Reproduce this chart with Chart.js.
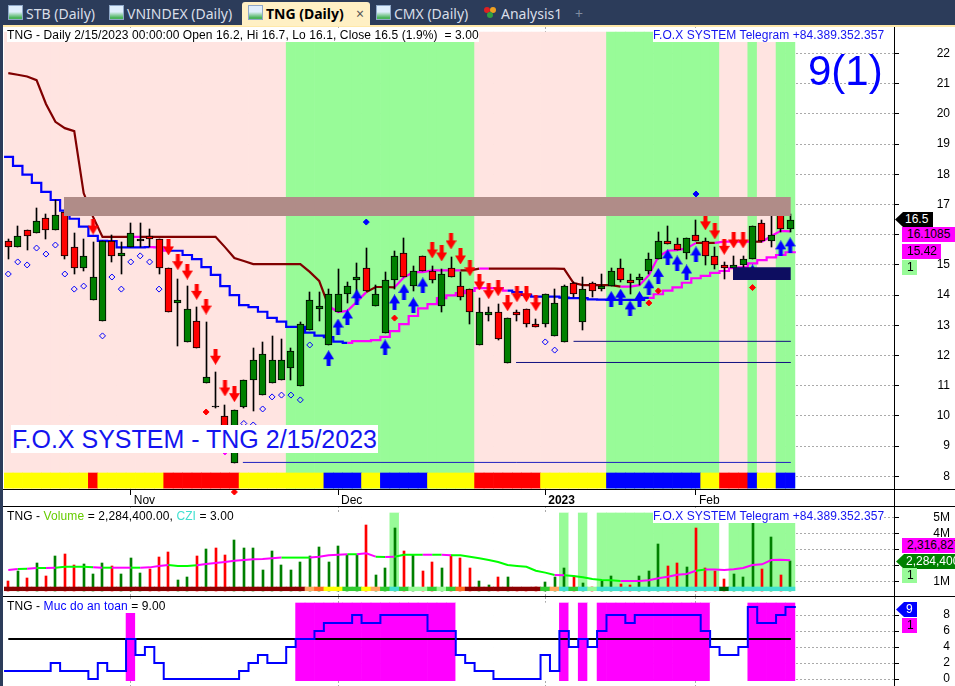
<!DOCTYPE html>
<html>
<head>
<meta charset="utf-8">
<title>TNG (Daily)</title>
<script src="https://cdn.jsdelivr.net/npm/chart.js@4"></script>
<style>
html, body { margin: 0; padding: 0; background: #fff; }
body { width: 955px; height: 686px; overflow: hidden; position: relative; font-family: "Liberation Sans", Arial, sans-serif; }
canvas { position: absolute; left: 4px; }
.abs { position: absolute; white-space: pre; }
#tabbar { position: absolute; left: 0; top: 0; width: 955px; height: 25px; background: #2c3c5a; }
#tabline { position: absolute; left: 3px; top: 25px; width: 952px; height: 2px; background: #ffe8a8; }
#frame { position: absolute; left: 0; top: 0; width: 3px; height: 686px; background: #2c3c5a; }
.tab { position: absolute; top: 4px; font: 14px "Noto Sans", sans-serif; color: #d9dee8; white-space: pre; }
#active { position: absolute; left: 242px; top: 2px; width: 128px; height: 24px; background: #fff0c4; border-radius: 3px 3px 0 0; }
.ico { position: absolute; top: 5px; width: 13px; height: 13px; border: 1px solid #8fa8c8; background: linear-gradient(#dfeefc 45%, #49b35a 90%); }
.note { background: #fff; color: #1414f0; font-size: 12px; line-height: 14px; height: 14px; letter-spacing: 0.06px; }
.lbl { background: #fff; color: #000; font-size: 12px; line-height: 14px; height: 14px; letter-spacing: 0.1px; }
.hline { position: absolute; left: 3px; width: 952px; height: 1px; background: #000; }
.tag { position: absolute; font-size: 12px; line-height: 15px; height: 15px; color: #000; padding-left: 5px; white-space: pre; overflow: hidden; }
.ptr { clip-path: polygon(0 50%, 8px 0, 100% 0, 100% 100%, 8px 100%); padding-left: 10px; color: #fff; }
</style>
</head>
<body>
<div id="frame"></div>
<div id="tabbar"></div>
<div id="tabline"></div>
<div id="active"></div>
<span class="ico" style="left:8px"></span><span class="tab" style="left:26px">STB (Daily)</span>
<span class="ico" style="left:109px"></span><span class="tab" style="left:127px">VNINDEX (Daily)</span>
<span class="ico" style="left:248px"></span><span class="tab" style="left:266px;color:#000;font-weight:bold">TNG (Daily)</span>
<span class="tab" style="left:356px;color:#555">×</span>
<span class="ico" style="left:376px"></span><span class="tab" style="left:394px">CMX (Daily)</span>
<span class="abs" style="left:484px;top:7px;width:6px;height:6px;background:#e02020;border-radius:3px"></span>
<span class="abs" style="left:490px;top:7px;width:6px;height:6px;background:#f0a020;border-radius:3px"></span>
<span class="abs" style="left:487px;top:12px;width:6px;height:6px;background:#30a040;border-radius:3px"></span>
<span class="tab" style="left:501px">Analysis1</span>
<span class="tab" style="left:575px;color:#7f8ba0">+</span>

<canvas id="priceChart" width="946" height="477" style="top:27px"></canvas>
<canvas id="volChart" width="946" height="90" style="top:506px"></canvas>
<canvas id="safeChart" width="946" height="89" style="top:597px"></canvas>

<div class="hline" style="top:489px"></div>
<div class="hline" style="top:506px"></div>
<div class="hline" style="top:596px"></div>
<div class="abs" style="left:894px;top:27px;width:1px;height:659px;background:#000"></div>

<span class="abs lbl" style="left:7px;top:28px">TNG - Daily 2/15/2023 00:00:00 Open 16.2, Hi 16.7, Lo 16.1, Close 16.5 (1.9%)  = 3.00</span>
<span class="abs note" style="left:653px;top:28px">F.O.X SYSTEM Telegram +84.389.352.357</span>
<span class="abs" style="left:808px;top:50px;font-size:42px;line-height:42px;color:#0000ff">9(1)</span>
<span class="abs" style="left:11px;top:425px;height:28px;line-height:28px;font-size:25px;color:#1414f0;background:#fff;padding:0 1px 0 1px">F.O.X SYSTEM - TNG 2/15/2023</span>

<span class="abs lbl" style="left:7px;top:509px">TNG - <span style="color:#66cc00">Volume</span> = 2,284,400.00, <span style="color:#40e0d0">CZI</span> = 3.00</span>
<span class="abs note" style="left:653px;top:509px">F.O.X SYSTEM Telegram +84.389.352.357</span>
<span class="abs lbl" style="left:7px;top:599px">TNG - <span style="color:#0000ff">Muc do an toan</span> = 9.00</span>

<div class="tag ptr" style="left:895px;top:212px;width:28px;background:#000">16.5</div>
<div class="tag" style="left:902px;top:227px;width:48px;background:#ff00ff">16.1085</div>
<div class="tag" style="left:902px;top:244px;width:34px;background:#ff00ff">15.42</div>
<div class="tag" style="left:902px;top:260px;width:10px;background:#98fb98">1</div>
<div class="tag" style="left:902px;top:538px;width:48px;background:#ff00ff">2,316,827</div>
<div class="tag ptr" style="left:896px;top:554px;width:49px;background:#008000">2,284,400</div>
<div class="tag" style="left:902px;top:568px;width:10px;background:#98fb98">1</div>
<div class="tag ptr" style="left:896px;top:602px;width:11px;background:#0000ff">9</div>
<div class="tag" style="left:902px;top:618px;width:10px;background:#ff00ff">1</div>

<script>
// gia theo tung phien (84 phien, doc tu hinh)
var candleOpen = [
  15.8,15.6,16.15,16.05,16.55,16.15,16.75,15.6,14.9,13.85,
  13.15,15.8,15.3,15.6,15.8,15.95,15.85,14.9,13.75,12.45,
  13.15,11.1,10.32,10.0,8.45,10.3,11.2,10.7,11.1,11.2,
  11.6,11,12.85,13.55,12.35,13.45,14.05,14.5,14.9,13.65,
  12.75,14.5,15.4,14.3,15.3,14.8,13.65,14.9,14.3,14.2,
  12.35,13.35,13.45,11.75,13.45,13.55,13.05,13.05,12.65,12.45,
  14.4,13.1,14.4,14.2,14.3,14.9,14.5,14.5,14.8,15.2,
  15.8,15.7,15.4,16,15.8,15.3,15,14.9,15,15.2,
  16.4,15.8,16.7,16.2];
var candleHigh = [
  15.85,16.3,16.15,16.9,16.7,17.15,16.75,16.05,15.85,15.75,
  15.8,16,15.75,16.4,16.4,16.2,15.85,14.9,14.55,14.3,
  13.6,13.1,11.45,10.35,10.2,11.2,12.25,12.45,12.65,12.55,
  12.25,13.1,14.1,14.1,14.2,14.85,14.45,15.05,15.55,14.35,
  14.75,15.45,15.9,14.95,15.3,14.95,14.85,15.25,14.75,14.2,
  13.9,13.6,13.7,13.25,13.5,13.55,13.2,14.05,14.2,14.35,
  14.45,14.6,14.45,14.7,14.9,15.2,14.7,14.7,15.4,16.1,
  16.3,15.9,15.9,16.5,15.9,15.6,15.1,15.3,15.3,16.3,
  16.5,16.7,16.85,16.7];
var candleLow = [
  15.2,15.6,15.5,16.05,15.85,16.15,15.2,14.7,14.8,13.85,
  13.15,15.1,14.7,15.6,15.6,15.6,14.7,13.45,12.3,12.45,
  12.25,11.1,10.25,9.1,8.45,10.25,10.15,10.7,11.1,11.2,
  11.2,11,12.85,13.15,12.35,13.45,13.75,14.05,14.15,13.65,
  12.75,14.2,14.6,14.15,14.8,14.4,13.45,14.6,13.85,13.05,
  12.35,13.15,12.5,11.75,13.15,12.95,12.95,12.95,12.65,12.45,
  13.95,12.85,13.95,14.15,14.3,14.45,14.05,14.35,14.7,15.2,
  15.7,15.5,15.2,15.8,15,14.85,14.55,14.9,14.85,15.2,
  15.75,15.6,16.1,16.1];
var candleClose = [
  15.6,15.95,15.95,16.45,16.15,16.65,15.3,14.9,15.3,14.6,
  15.8,15.3,15.4,16.05,15.85,15.85,14.9,13.45,13.85,13.55,
  12.25,11.3,10.28,9.2,10.2,11.2,11.85,12.05,11.85,11.85,
  12.15,13.05,13.85,13.65,14.05,14.05,14.3,14.6,14.15,14.05,
  14.5,15.3,14.6,14.8,14.8,14.5,14.7,14.6,13.95,13.45,
  13.45,13.45,12.55,13.25,13.35,13.05,12.95,14.05,13.75,14.3,
  14.05,14.2,14.15,14.3,14.8,14.5,14.4,14.6,15.2,15.8,
  15.7,15.5,15.9,15.8,15.3,15,14.9,15,15.2,16.3,
  15.8,16,16.2,16.5];

// duong tren (do / hong) va duong duoi (xanh / hong)
var upperLine = [
  21.35,21.3,21.24,21.12,20.33,19.74,19.53,19.43,17.38,16.59,
  15.93,15.93,15.93,15.93,15.93,15.93,15.93,15.93,15.93,15.93,
  15.93,15.93,15.93,15.59,15.23,15.13,15.03,15.03,15.03,15.03,
  15.03,15.03,14.77,14.47,13.64,13.44,13.48,13.78,14.1,14.27,
  14.27,14.26,14.59,14.76,14.76,14.82,14.82,14.82,14.82,14.82,
  14.88,14.88,14.88,14.88,14.88,14.88,14.88,14.88,14.88,14.87,
  14.4,14.33,14.33,14.33,14.33,14.28,14.28,14.33,14.66,15.27,
  15.47,15.49,15.55,15.73,15.73,15.73,15.77,15.77,15.77,15.77,
  15.77,15.96,16.13,16.11];
var lowerLine = [
  18.58,18.28,17.99,17.72,17.42,17.15,16.8,16.53,16.27,15.96,
  15.8,15.79,15.58,15.58,15.58,15.59,15.58,15.47,15.47,15.33,
  15.19,14.93,14.67,14.3,14.0,13.67,13.6,13.45,13.25,13.12,
  12.95,12.95,12.76,12.66,12.61,12.46,12.42,12.48,12.48,12.51,
  12.62,12.81,13.04,13.31,13.56,13.7,13.9,13.99,14.07,14.14,
  14.23,14.23,14.23,14.15,14.1,14.01,13.95,13.95,13.95,13.92,
  13.9,13.9,13.86,13.85,13.84,13.84,13.84,13.84,13.91,14.03,
  14.15,14.26,14.41,14.56,14.64,14.74,14.8,14.89,14.92,15.05,
  15.16,15.25,15.33,15.42];
var upperMagentaRuns = [[13,13],[34,37],[41,47],[50,50],[65,72],[75,78],[80,83]];
var lowerMagentaRuns = [[15,16],[36,52],[68,83]];

// nen hong / xanh la va dai mau duoi bieu do gia
var priceGreenRuns = [[30,49],[64,75],[79,79],[82,83]];
var stripState = [
  0,0,0,0,0,0,0,0,0,1, 0,0,0,0,0,0,0,1,1,1,
  1,1,1,1,1,0,0,0,0,0, 0,0,0,0,2,2,2,2,0,0,
  2,2,2,2,2,0,0,0,0,0, 1,1,1,1,1,1,1,0,0,0,
  0,0,0,0,2,2,2,2,2,2, 2,2,2,2,0,0,1,1,1,2,
  0,0,2,2];

// cac dau mui ten va hinh thoi
var redArrowIdx = [9,17,18,19,20,21,22,23,24,45,46,47,48,49,50,51,52,53,54,55,56,74,75,76,77,78];
var redArrowVal = [16.27,15.58,15.09,14.78,14.11,13.62,11.96,10.91,10.72,15.48,15.38,15.78,15.28,14.89,14.42,14.13,14.23,13.73,14.03,14.03,13.73,16.41,16.11,15.6,15.81,15.81];
var blueArrowIdx = [34,35,36,37,40,41,42,43,44,64,65,66,67,68,69,70,71,72,73,79,82,83];
var blueArrowVal = [11.91,12.96,13.26,13.93,12.27,13.76,14.11,13.66,14.32,13.87,13.95,13.56,13.87,14.26,14.64,15.25,15.05,14.75,15.35,14.75,15.55,15.65];
var hollowIdx = [0,1,2,3,4,5,6,7,8,10,11,12,13,14,15,16,25,26,27,28,29,30,31,32,57,58];
var hollowVal = [14.7,15.1,15.0,15.56,15.36,15.66,14.7,14.2,14.3,12.65,14.6,14.2,15.1,15.3,15.1,14.2,9.75,9.7,10.23,10.63,10.69,10.69,10.53,12.35,12.45,12.18];
var redDotIdx = [21,24,41,68,69,79];
var redDotVal = [10.13,7.48,13.24,13.74,14.14,14.25];
var blueDotIdx = [38,73];
var blueDotVal = [16.42,17.35];
var magentaDotIdx = [23];
var magentaDotVal = [8.84];

// vung khang cu / ho tro va cac duong ngang
var brownZone = [5.91, 83.07, 16.62, 17.25];
var navyZone = [76.93, 83.07, 14.5, 14.92];
var supportStart = [60, 53.9, 24.9];
var supportLevel = [12.47, 11.77, 8.46];
var lastIdx = 83.07;

// khoi luong (trieu cp)
var volume = [
  1.02,1.64,1.21,2.14,1.33,2.58,2.71,2.02,2.08,1.46,
  2.14,1.96,1.46,2.46,1.52,1.77,2.52,2.83,1.08,1.27,
  2.58,3.02,3.08,2.64,3.58,3.08,3.08,1.71,2.89,2.02,
  1.71,2.21,2.58,3.14,2.21,3.21,2.64,2.64,4.52,1.39,
  1.83,4.33,2.89,2.64,1.64,2.21,1.83,2.64,2.46,1.83,
  1.02,0.77,1.27,1.27,0.54,0.58,0.62,0.96,1.27,1.83,
  1.33,0.89,0.64,1.02,1.33,0.83,0.77,1.33,1.64,3.33,
  1.96,2.14,1.89,4.33,1.83,1.64,1.14,1.46,1.27,4.64,
  1.77,3.77,1.39,2.28];
var volAverage = [
  1.71,1.77,1.79,1.83,1.83,1.85,1.91,1.91,1.91,1.87,
  1.85,1.85,1.85,1.85,1.85,1.87,1.96,2.02,1.96,1.96,
  2.0,2.08,2.14,2.21,2.29,2.33,2.37,2.39,2.44,2.48,
  2.48,2.48,2.48,2.54,2.62,2.66,2.69,2.69,2.75,2.54,
  2.52,2.54,2.66,2.66,2.66,2.66,2.66,2.62,2.62,2.54,
  2.44,2.33,2.21,2.02,1.96,1.91,1.66,1.54,1.39,1.37,
  1.33,1.25,1.14,1.08,1.06,1.02,1.02,1.02,1.06,1.19,
  1.29,1.41,1.46,1.66,1.73,1.73,1.71,1.75,1.83,2.02,
  2.06,2.33,2.35,2.32];
var volAvgMagentaRuns = [[0,0],[2,2],[4,4],[9,9],[11,12],[14,16],[20,28],[32,35],[37,38],[40,40],[44,44],[46,46],[58,58],[65,72],[74,83]];
var volGreenRuns = [[41,41],[59,59],[61,61],[63,75],[77,83]];
var volBand = [0.41, 5.27];
var cziStrip = [0.41, 0.64];
var cziState = [
  0,0,0,0,0,0,0,0,0,0, 0,0,0,0,0,0,0,0,0,0,
  0,0,0,0,0,0,0,0,0,0, 0,0,1,2,3,3,4,4,3,1,
  4,6,4,5,5,4,5,4,2,0, 0,0,0,0,0,0,0,4,1,6,
  4,6,5,6,6,6,6,6,6,6, 6,6,6,6,6,6,7,6,6,6,
  6,6,6,6];

// muc do an toan
var safetyLevel = [
  1,1,1,1,1,2,1,1,1,0, 2,1,1,5,3,4,2,0,0,0,
  0,0,0,0,0,1,2,3,2,2, 4,5,5,6,7,7,7,8,7,7,
  8,8,8,8,8,6,6,6,3,2, 1,1,0,0,0,0,0,3,1,6,
  4,5,4,6,8,8,7,8,8,8, 8,8,8,8,6,4,3,3,4,9,
  7,7,8,9];
var safetyMagentaRuns = [[13,13],[31,47],[59,59],[61,61],[63,74],[79,83]];
var safetyBand = [-0.21, 9.5];
var safetyLine = 5;

// truc
var monthIdx = [13,35,57,73];
var monthLabels = ['Nov','Dec','2023','Feb'];
var priceTicks = [8,9,10,11,12,13,14,15,16,17,18,19,20,21,22];
var volTicks = [1,2,3,4,5];
var safetyTicks = [0,2,4,6,8];

var stripColors = ['#ffff00','#ff0000','#0000ff'];
var cziColors = ['#8b0000','#ffa860','#ff6a20','#ffff00','#32cd32','#98fb98','#40e0d0','#006400'];

function inRuns(runs, i) {
  for (var r = 0; r < runs.length; r++) {
    if (i >= runs[r][0] && i <= runs[r][1]) return true;
  }
  return false;
}
function pts(arr) {
  return arr.map(function (v, i) { return { x: i, y: v }; });
}
function pick(idx, val) {
  return idx.map(function (v, i) { return { x: v, y: val[i] }; });
}
// keo dai duong bac thang ra hai mep vung du lieu
function withEnds(arr) {
  var p = pts(arr);
  p.unshift({ x: -0.45, y: arr[0] });
  p.push({ x: 83.6, y: arr[arr.length - 1] });
  return p;
}
function floating(low, high) {
  return candleOpen.map(function (v, i) { return { x: i, y: [low, high] }; });
}
function segColor(runs, on, off) {
  return function (ctx) {
    return inRuns(runs, Math.max(0, Math.floor(ctx.p0.parsed.x))) ? on : off;
  };
}
function arrowImage(color, up) {
  var c = document.createElement('canvas');
  c.width = 11; c.height = 16;
  var g = c.getContext('2d');
  g.fillStyle = color;
  g.translate(5.5, 8);
  if (!up) g.scale(1, -1);
  g.beginPath();
  g.moveTo(0, -8); g.lineTo(5.5, 1); g.lineTo(2, 1); g.lineTo(2, 8);
  g.lineTo(-2, 8); g.lineTo(-2, 1); g.lineTo(-5.5, 1);
  g.closePath();
  g.fill();
  return c;
}
function isUp(i) { return candleClose[i] >= candleOpen[i]; }
function candleColor(i) {
  if (Math.abs(candleClose[i] - candleOpen[i]) < 0.05) return '#000';
  return isUp(i) ? '#008000' : '#ff0000';
}

// dat thanh nen va cot khoi luong vao dung pixel cho net
var snapBars = {
  id: 'snapBars',
  beforeDatasetsDraw: function (chart) {
    chart.data.datasets.forEach(function (ds, n) {
      if (!ds.snap) return;
      chart.getDatasetMeta(n).data.forEach(function (el) {
        el.x = (Math.round(el.width) % 2) ? Math.floor(el.x) + 0.5 : Math.round(el.x);
        el.y = Math.round(el.y);
        el.base = Math.round(el.base);
      });
    });
  }
};

Chart.defaults.font.family = '"Liberation Sans", Arial, sans-serif';
Chart.defaults.font.size = 12;
Chart.defaults.color = '#000';
Chart.defaults.animation = false;

// bo padding mac dinh cua truc de vung ve dung kich thuoc
function noMargins(s) {
  s.paddingTop = 0; s.paddingBottom = 0; s.paddingLeft = 0; s.paddingRight = 0;
}
function yAxis(min, max, ticks, text) {
  return {
    position: 'right', min: min, max: max, beginAtZero: false,
    afterFit: function (s) { s.width = 56; noMargins(s); },
    afterBuildTicks: function (s) { s.ticks = ticks.map(function (v) { return { value: v }; }); },
    grid: { color: '#aaa', tickColor: '#000', tickLength: 5 },
    border: { display: false, dash: [2, 2] },
    ticks: { crossAlign: 'far', padding: 2, autoSkip: false, callback: text }
  };
}
function xAxis(showLabels) {
  return {
    type: 'linear', min: -0.456, max: 94.02, offset: false,
    afterFit: function (s) { s.height = showLabels ? 15 : 0; noMargins(s); },
    afterBuildTicks: function (s) { s.ticks = monthIdx.map(function (v) { return { value: v }; }); },
    grid: { offset: false, color: '#aaa', tickColor: '#000', tickLength: 6, drawTicks: showLabels },
    border: { display: false, dash: [2, 2] },
    ticks: {
      display: showLabels, align: 'start', labelOffset: 3, padding: -2, autoSkip: false, maxRotation: 0,
      callback: function (v) { return monthLabels[monthIdx.indexOf(v)]; },
      font: function (ctx) { return { weight: ctx.tick && ctx.tick.value === 57 ? 'bold' : 'normal' }; }
    }
  };
}
function baseOptions(x, y) {
  return {
    responsive: false, animation: false, devicePixelRatio: 1,
    layout: { padding: 0, autoPadding: false },
    plugins: { legend: { display: false }, tooltip: { enabled: false } },
    events: [],
    scales: { x: x, y: y }
  };
}
function bandSet(low, high, color, order) {
  return {
    type: 'bar', grouped: false, order: order, barPercentage: 1, categoryPercentage: 1,
    data: floating(low, high),
    backgroundColor: color
  };
}
function zoneSet(z, color, order) {
  return {
    type: 'line', order: order, pointRadius: 0, borderWidth: 0, backgroundColor: color,
    fill: { value: z[2] },
    data: [{ x: z[0], y: z[3] }, { x: z[1], y: z[3] }]
  };
}
function markSet(data, style, radius, fill, line, order) {
  return {
    type: 'scatter', order: order, data: data, pointStyle: style, pointRadius: radius,
    backgroundColor: fill, borderColor: line, borderWidth: 1, showLine: false, clip: false
  };
}

var priceSets = [
  bandSet(7.61, 22.71, function (c) { return inRuns(priceGreenRuns, c.dataIndex) ? '#98fb98' : '#ffe4e1'; }, 100),
  bandSet(7.61, 8.11, function (c) { return stripColors[stripState[c.dataIndex]]; }, 90),
  {
    type: 'line', order: 60, borderWidth: 2.2, pointRadius: 0, borderColor: '#800000', data: pts(upperLine),
    segment: { borderColor: segColor(upperMagentaRuns, '#ff00ff', '#800000') }
  },
  {
    type: 'line', order: 59, borderWidth: 2.2, pointRadius: 0, borderColor: '#0000ff', stepped: 'middle', data: withEnds(lowerLine),
    segment: { borderColor: segColor(lowerMagentaRuns, '#ff00ff', '#0000ff') }
  },
  {
    type: 'bar', grouped: false, order: 50, snap: true, barThickness: 1, backgroundColor: '#000',
    data: candleOpen.map(function (v, i) { return { x: i, y: [candleLow[i], candleHigh[i]] }; })
  },
  {
    type: 'bar', grouped: false, order: 49, snap: true, barThickness: 7, borderWidth: 1, borderSkipped: false, borderColor: '#000',
    backgroundColor: function (c) { return candleColor(c.dataIndex); },
    data: candleOpen.map(function (v, i) { return { x: i, y: [candleOpen[i], candleClose[i]] }; })
  },
  markSet(pick(hollowIdx, hollowVal), 'rectRot', 3, 'rgba(255,255,255,0)', '#0000ff', 40),
  markSet(pick(redDotIdx, redDotVal), 'rectRot', 3, '#ff0000', '#ff0000', 39),
  markSet(pick(blueDotIdx, blueDotVal), 'rectRot', 3, '#0000ff', '#0000ff', 38),
  markSet(pick(magentaDotIdx, magentaDotVal), 'rectRot', 4, '#ff00ff', '#ff00ff', 37),
  markSet(pick(redArrowIdx, redArrowVal), arrowImage('#ff0000', false), 5, '#ff0000', '#ff0000', 30),
  markSet(pick(blueArrowIdx, blueArrowVal), arrowImage('#0000ff', true), 5, '#0000ff', '#0000ff', 29),
  zoneSet(brownZone, '#b08c88', 10),
  zoneSet(navyZone, '#0d0d60', 9)
];
supportLevel.forEach(function (v, i) {
  priceSets.push({
    type: 'line', order: 20, borderWidth: 1, pointRadius: 0, borderColor: i === 2 ? '#2020c0' : '#101080',
    data: [{ x: supportStart[i], y: v }, { x: lastIdx, y: v }]
  });
});

new Chart(document.getElementById('priceChart'), {
  type: 'bar',
  data: { datasets: priceSets },
  options: baseOptions(xAxis(true), yAxis(7.58, 22.88, priceTicks, function (v) { return String(v); })),
  plugins: [snapBars]
});

new Chart(document.getElementById('volChart'), {
  type: 'bar',
  data: {
    datasets: [
      bandSet(volBand[0], volBand[1], function (c) { return inRuns(volGreenRuns, c.dataIndex) ? '#98fb98' : '#ffffff'; }, 100),
      {
        type: 'bar', grouped: false, order: 50, snap: true, barThickness: 2,
        base: cziStrip[0],
        backgroundColor: function (c) { return isUp(c.dataIndex) ? '#008000' : '#ff0000'; },
        data: pts(volume)
      },
      bandSet(cziStrip[0], cziStrip[1], function (c) { return cziColors[cziState[c.dataIndex]]; }, 40),
      {
        type: 'line', order: 30, borderWidth: 2, pointRadius: 0, borderColor: '#00ff00', data: pts(volAverage),
        segment: { borderColor: segColor(volAvgMagentaRuns, '#ff00ff', '#00ff00') }
      }
    ]
  },
  options: baseOptions(xAxis(false), yAxis(0.08, 5.706, volTicks, function (v) { return v + 'M'; })),
  plugins: [snapBars]
});

new Chart(document.getElementById('safeChart'), {
  type: 'bar',
  data: {
    datasets: [
      bandSet(safetyBand[0], safetyBand[1], function (c) { return inRuns(safetyMagentaRuns, c.dataIndex) ? '#ff00ff' : '#ffffff'; }, 100),
      {
        type: 'line', order: 50, borderWidth: 2, pointRadius: 0, borderColor: '#000',
        data: [{ x: 0, y: safetyLine }, { x: lastIdx, y: safetyLine }]
      },
      {
        type: 'line', order: 40, borderWidth: 2, pointRadius: 0, borderColor: '#0000ff', stepped: 'middle',
        data: withEnds(safetyLevel)
      }
    ]
  },
  options: baseOptions(xAxis(false), yAxis(-0.875, 10.25, safetyTicks, function (v) { return String(v); })),
  plugins: [snapBars]
});
</script>
</body>
</html>
